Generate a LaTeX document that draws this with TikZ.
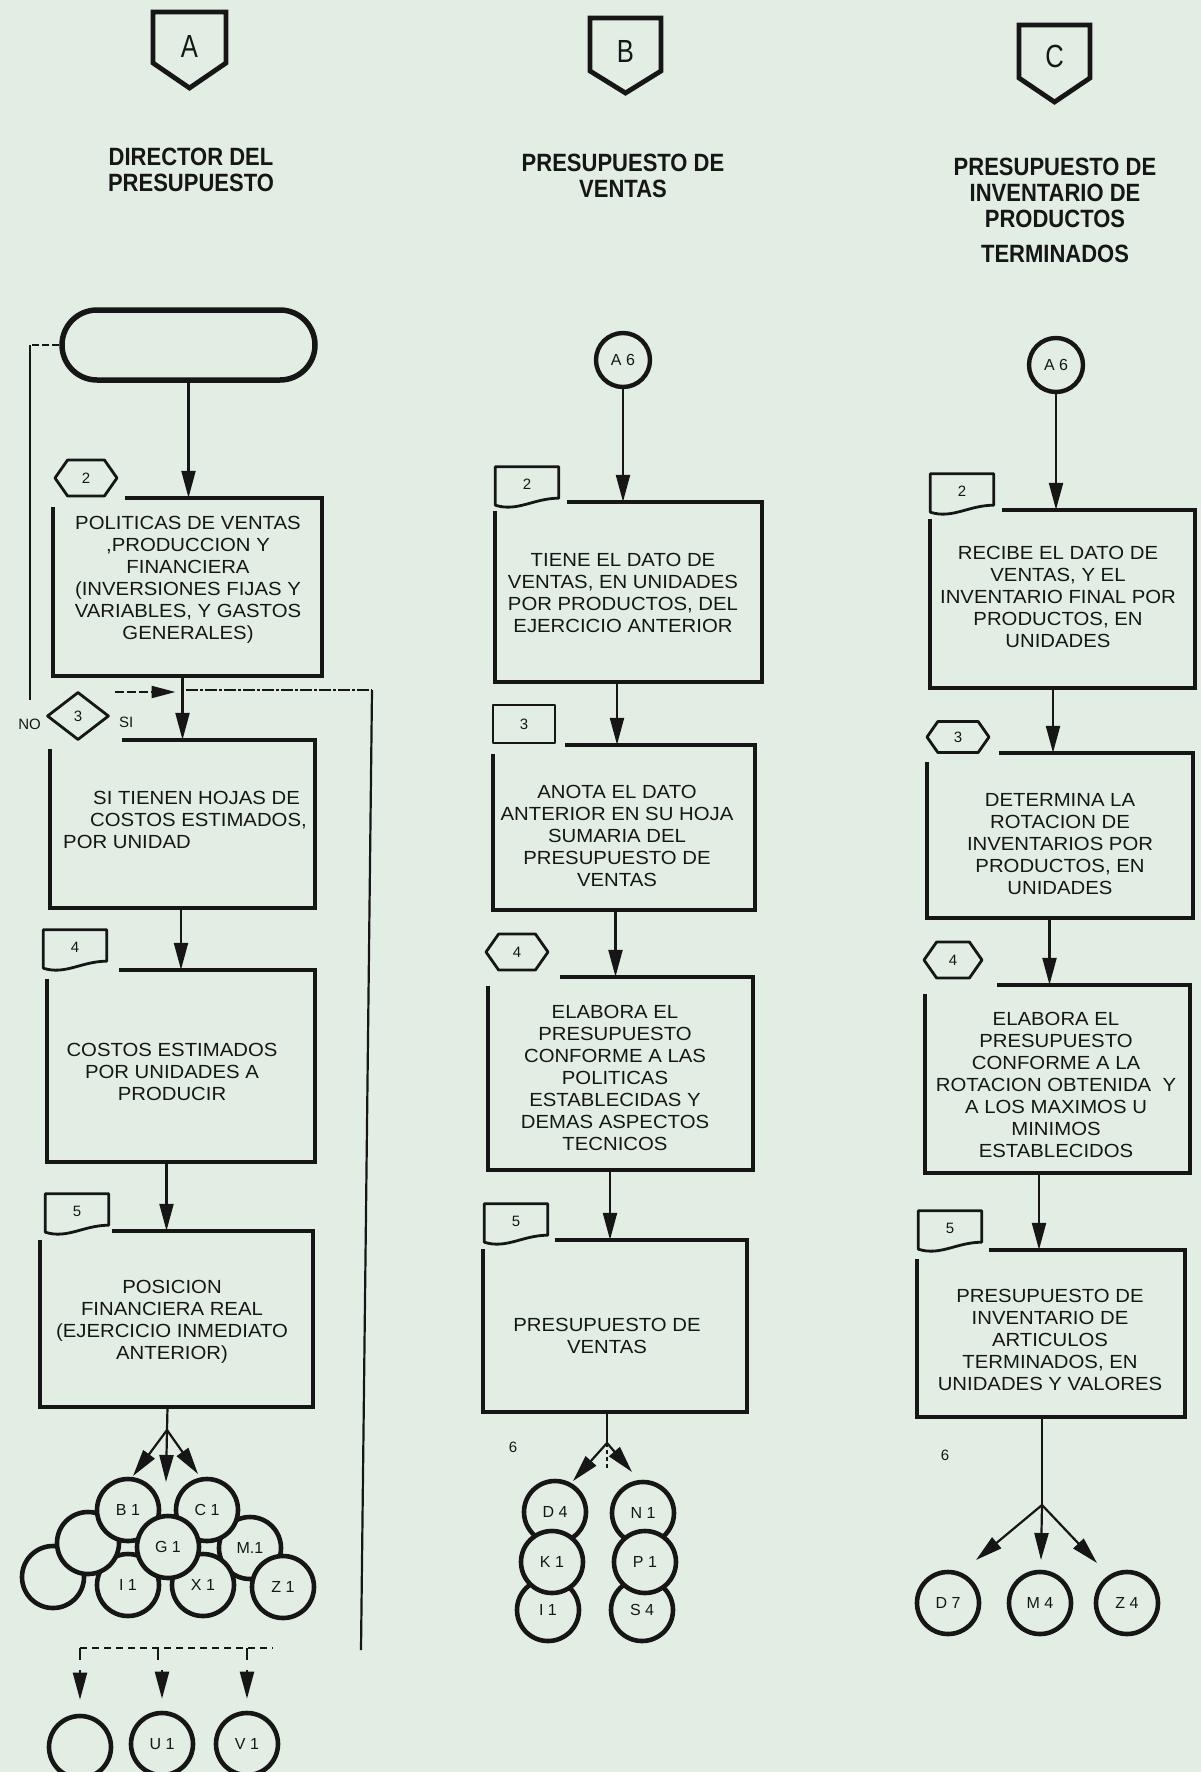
\documentclass[tikz,border=0pt]{standalone}
\usepackage{fontspec}
\setmainfont{Liberation Sans}
\newfontfamily\hdrfont{Liberation Sans Bold}[FakeStretch=0.88]
\newfontfamily\narrowfont{Liberation Sans}[FakeStretch=0.8]
\newfontfamily\wideboxfont{Liberation Sans}[FakeStretch=1.07]
\usetikzlibrary{arrows.meta,shapes.geometric,shapes.symbols,calc}
\definecolor{bg}{RGB}{226,238,228}
\definecolor{ink}{RGB}{22,22,22}
\newcommand\boxf{\wideboxfont\fontsize{19}{22}\selectfont}
\newcommand\tagf{\fontsize{15}{17}\selectfont}
\newcommand\circf{\fontsize{16}{18}\selectfont}
\newcommand\hdrf{\hdrfont\fontsize{25}{26}\selectfont}
\newcommand\shf{\narrowfont\fontsize{32}{34}\selectfont}
\tikzset{
  ln/.style={draw=ink, line width=2.2pt},
  arr/.style={ln, -{Triangle[length=27pt,width=14pt]}},
  boxline/.style={draw=ink, line width=4.4pt, line join=miter},
  boxn/.style={inner sep=0pt, align=center, font=\boxf, text=ink},
  tagline/.style={draw=ink, line width=2.8pt, line join=round},
  tagt/.style={font=\tagf, text=ink, inner sep=0pt},
  hextag/.style={tagline, signal, signal to=west and east, signal pointer angle=110,
    minimum width=62pt, minimum height=36pt, inner sep=0pt, font=\tagf, text=ink},
  dia/.style={tagline, diamond, minimum width=62pt, minimum height=48pt, inner sep=0pt, font=\tagf, text=ink},
  rtag/.style={tagline, rectangle, minimum width=62pt, minimum height=38pt, inner sep=0pt, font=\tagf, text=ink},
  circ/.style={circle, draw=ink, line width=4.6pt, fill=bg, minimum size=62pt, inner sep=0pt, font=\circf, text=ink},
  conn/.style={circle, draw=ink, line width=4.4pt, minimum size=54pt, inner sep=0pt, font=\circf, text=ink},
  hdr/.style={align=center, font=\hdrf, text=ink},
  shl/.style={font=\shf, text=ink, inner sep=0pt},
  shline/.style={draw=ink, line width=4.8pt, line join=miter},
  term/.style={draw=ink, line width=5.5pt, rounded corners=35pt, minimum width=253pt, minimum height=70pt},
  lbl/.style={font=\tagf, text=ink, inner sep=0pt}
}
% shield: name L R T S P labelY label
\newcommand\shield[8]{%
  \node[shl] (#1) at ({(#2+#3)/2},#7) {#8};
  \draw[shline] (#2,#4) -- (#3,#4) -- (#3,#5) -- ({(#2+#3)/2},#6) -- (#2,#5) -- cycle;}
% process box: name L T R B
\newcommand\pbox[5]{%
  \node[boxn, minimum width={#4-#2}, minimum height={#5-#3}] (#1) at ({(#2+#4)/2},{(#3+#5)/2}) {};
  \draw[boxline] ($(#1.north west)+(72,0)$) -- (#1.north east) -- (#1.south east) -- (#1.south west) -- ($(#1.north west)+(0,9)$);}
% document tag: name cx cy label
\newcommand\doctag[4]{%
  \node[tagt, minimum width=63pt, minimum height=34pt] (#1) at (#2,#3) {#4};
  \draw[tagline] ($(#1.north west)$) -- (#1.north east) -- ($(#1.south east)+(0,-3)$)
    .. controls +(-25,0) and +(22,7) .. ($(#1.south west)+(0,4)$) -- cycle;}
\begin{document}
\begin{tikzpicture}[x=1pt,y=-1pt]
\fill[bg] (0,0) rectangle (1201,1772);
\useasboundingbox (0,0) rectangle (1201,1772);

% ---------- headers ----------
\shield{shA}{153}{226}{12}{63}{88}{46}{A}
\shield{shB}{590}{661}{18}{71}{93}{51}{B}
\shield{shC}{1019}{1090}{25}{78}{102}{56}{C}
\node[hdr] (hA) at (191,170) {DIRECTOR DEL\\PRESUPUESTO};
\node[hdr] (hB) at (623,176) {PRESUPUESTO DE\\VENTAS};
\node[hdr] (hC) at (1055,210) {PRESUPUESTO DE\\INVENTARIO DE\\PRODUCTOS\\[9pt]TERMINADOS};

% ---------- column A ----------
\node[term] (tA) at (188.5,345) {};
\pbox{a2}{53}{498}{322}{676}
\node[hextag] (a2g) at (86,478) {2};
\node[boxn] (a2t) at (188,580) {POLITICAS DE VENTAS\\,PRODUCCION Y\\FINANCIERA\\(INVERSIONES FIJAS Y\\VARIABLES, Y GASTOS\\GENERALES)};
\draw[arr] (tA.south) -- (tA.south |- a2.north);

\pbox{a3}{50}{740}{315}{908}
\node[dia] (a3g) at (78,716) {3};
\node[lbl, anchor=east] (no) at (41,724) {NO};
\node[lbl, anchor=west] (si) at (119,722) {SI};
\node[boxn, align=left, anchor=west] (a3t) at (63,820) {\hspace*{30pt}SI TIENEN HOJAS DE\\\hspace*{27pt}COSTOS ESTIMADOS,\\POR UNIDAD};
\draw[arr] (a3.north |- a2.south) -- (a3.north);
\draw[ln, dash pattern=on 7pt off 3pt] (tA.west) -- (30,345);
\draw[ln] (30,345) -- (30,700);
\coordinate (dstart) at (115,692);
\draw[ln, dash pattern=on 9pt off 3pt, -{Triangle[length=24pt,width=12pt]}] (dstart) -- ($(a3.north |- dstart)+(-7,0)$);
\coordinate (lpA) at (186,690);
\coordinate (lpB) at (372,690);
\coordinate (lpC) at (361,1650);
\draw[ln, dash pattern=on 12pt off 2pt on 3pt off 2pt] (lpA) -- (lpB);
\draw[ln] (lpB) -- (lpC);

\pbox{a4}{47}{970}{315}{1162}
\doctag{a4g}{75}{947}{4}
\node[boxn] (a4t) at (172,1072) {COSTOS ESTIMADOS\\POR UNIDADES A\\PRODUCIR};
\draw[arr] (a4.north |- a3.south) -- (a4.north);

\pbox{a5}{40}{1231}{313}{1407}
\doctag{a5g}{77}{1211}{5}
\node[boxn] (a5t) at (172,1322) {POSICION\\FINANCIERA REAL\\(EJERCICIO INMEDIATO\\ANTERIOR)};
\draw[arr] ($(a5.north |- a4.south)+(-10,0)$) -- ($(a5.north)+(-10,0)$);

% cluster
\node[circ] (e1) at (53,1577) {};
\node[circ] (m1) at (250,1548) {M.1};
\node[circ] (i1) at (128,1585) {I 1};
\node[circ] (x1) at (203,1585) {X 1};
\node[circ] (z1) at (283,1587) {Z 1};
\node[circ] (e2) at (88,1543) {};
\node[circ] (b1) at (128,1510) {B 1};
\node[circ] (c1) at (207,1510) {C 1};
\node[circ] (g1) at (168,1547) {G 1};
\coordinate (fA) at (167,1430);
\draw[ln] ($(a5.south)+(-9,0)$) -- (fA);
\coordinate (tA1) at (133,1476);
\coordinate (tA2) at (166,1482);
\coordinate (tA3) at (198,1474);
\draw[arr] (fA) -- (tA1);
\draw[arr] (fA) -- (tA2);
\draw[arr] (fA) -- (tA3);

% bottom of A
\draw[ln, dash pattern=on 7pt off 5pt] (80,1648) -- (273,1648);
\draw[ln] (80,1648) -- (80,1660) (158,1648) -- (158,1660) (247,1648) -- (247,1660);
\node[circ] (e3) at (80,1747) {};
\node[circ] (u1) at (162,1744) {U 1};
\node[circ] (v1) at (247,1744) {V 1};
\draw[arr, shorten >=14pt] (80,1670) -- (e3.north);
\draw[arr, shorten >=12pt] (162,1670) -- (u1.north);
\draw[arr, shorten >=12pt] (247,1670) -- (v1.north);

% ---------- column B ----------
\node[conn] (cb) at (623,360) {A 6};
\pbox{b2}{495}{502}{762}{682}
\doctag{b2g}{527}{484}{2}
\node[boxn] (b2t) at (623,593) {TIENE EL DATO DE\\VENTAS, EN UNIDADES\\POR PRODUCTOS, DEL\\EJERCICIO ANTERIOR};
\draw[arr] (cb.south) -- (cb.south |- b2.north);

\pbox{b3}{493}{745}{755}{910}
\node[rtag] (b3g) at (524,724) {3};
\node[boxn] (b3t) at (617,836) {ANOTA EL DATO\\ANTERIOR EN SU HOJA\\SUMARIA DEL\\PRESUPUESTO DE\\VENTAS};
\draw[arr] ($(b3.north |- b2.south)+(-7,0)$) -- ($(b3.north)+(-7,0)$);

\pbox{b4}{488}{977}{753}{1170}
\node[hextag] (b4g) at (517,952) {4};
\node[boxn] (b4t) at (615,1078) {ELABORA EL\\PRESUPUESTO\\CONFORME A LAS\\POLITICAS\\ESTABLECIDAS Y\\DEMAS ASPECTOS\\TECNICOS};
\draw[arr] ($(b4.north |- b3.south)+(-5,0)$) -- ($(b4.north)+(-5,0)$);

\pbox{b5}{483}{1240}{747}{1412}
\doctag{b5g}{516}{1221}{5}
\node[boxn] (b5t) at (607,1336) {PRESUPUESTO DE\\VENTAS};
\draw[arr] ($(b5.north |- b4.south)+(-5,0)$) -- ($(b5.north)+(-5,0)$);

\node[circ] (d4) at (555,1512) {D 4};
\node[circ] (l1) at (548,1610) {I 1};
\node[circ] (k1) at (552,1562) {K 1};
\node[circ] (n1) at (643,1513) {N 1};
\node[circ] (s4) at (642,1610) {S 4};
\node[circ] (p1) at (645,1562) {P 1};
\coordinate (fB) at (607,1443);
\draw[ln] ($(b5.south)+(-8,0)$) -- (fB);
\draw[ln, line width=1.4pt, dash pattern=on 4pt off 3pt] (fB) -- (607,1470);
\node[lbl] (six1) at (513,1447) {6};
\coordinate (tB1) at (573,1481);
\coordinate (tB2) at (632,1472);
\draw[arr] (fB) -- (tB1);
\draw[arr] (fB) -- (tB2);

% ---------- column C ----------
\node[conn] (cc) at (1056,365) {A 6};
\pbox{c2}{930}{510}{1195}{688}
\doctag{c2g}{962}{491}{2}
\node[boxn] (c2t) at (1058,597) {RECIBE EL DATO DE\\VENTAS, Y EL\\INVENTARIO FINAL POR\\PRODUCTOS, EN\\UNIDADES};
\draw[arr] (cc.south) -- (cc.south |- c2.north);

\pbox{c3}{927}{753}{1193}{918}
\node[hextag, minimum height=31pt] (c3g) at (958,737) {3};
\node[boxn] (c3t) at (1060,844) {DETERMINA LA\\ROTACION DE\\INVENTARIOS POR\\PRODUCTOS, EN\\UNIDADES};
\draw[arr] ($(c3.north |- c2.south)+(-7,0)$) -- ($(c3.north)+(-7,0)$);

\pbox{c4}{925}{985}{1190}{1173}
\node[hextag, minimum width=58pt] (c4g) at (953,960) {4};
\node[boxn] (c4t) at (1056,1085) {ELABORA EL\\PRESUPUESTO\\CONFORME A LA\\ROTACION OBTENIDA\ \ Y\\A LOS MAXIMOS U\\MINIMOS\\ESTABLECIDOS};
\draw[arr] ($(c4.north |- c3.south)+(-8,0)$) -- ($(c4.north)+(-8,0)$);

\pbox{c5}{917}{1250}{1185}{1417}
\doctag{c5g}{950}{1228}{5}
\node[boxn] (c5t) at (1050,1340) {PRESUPUESTO DE\\INVENTARIO DE\\ARTICULOS\\TERMINADOS, EN\\UNIDADES Y VALORES};
\draw[arr] ($(c5.north |- c4.south)+(-12,0)$) -- ($(c5.north)+(-12,0)$);

\node[circ] (d7) at (948,1603) {D 7};
\node[circ] (m4) at (1040,1603) {M 4};
\node[circ] (z4) at (1127,1603) {Z 4};
\coordinate (fC) at (1042,1505);
\draw[ln] ($(c5.south)+(-9,0)$) -- (fC);
\node[lbl] (six2) at (945,1455) {6};
\coordinate (tC1) at (976,1560);
\coordinate (tC2) at (1041,1560);
\coordinate (tC3) at (1097,1563);
\draw[arr] (fC) -- (tC1);
\draw[arr] (fC) -- (tC2);
\draw[arr] (fC) -- (tC3);
\end{tikzpicture}
\end{document}
